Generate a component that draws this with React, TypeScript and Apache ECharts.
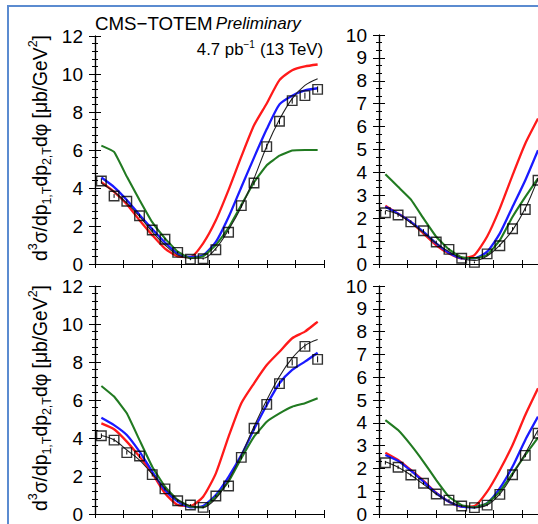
import React, { useEffect, useRef } from "react";
import * as echarts from "echarts";

// bin centres (degrees)
const phiBins = [5, 15, 25, 35, 45, 55, 65, 75, 85, 95, 105, 115, 125, 135, 145, 155, 165, 175];

// top-left panel
const tlData = [4.37, 3.58, 3.30, 2.54, 1.79, 1.30, 0.61, 0.25, 0.28, 0.75, 1.67, 3.07, 4.26, 6.18, 7.51, 8.60, 8.86, 9.19];
const tlErr = [0.12, 0.1, 0.1, 0.1, 0.1, 0.08, 0.06, 0.05, 0.05, 0.06, 0.08, 0.1, 0.12, 0.15, 0.16, 0.16, 0.16, 0.16];
const tlRed = [4.30, 3.80, 3.15, 2.30, 1.52, 0.81, 0.40, 0.36, 1.09, 2.30, 3.90, 5.65, 7.30, 8.45, 9.68, 10.20, 10.40, 10.50];
const tlBlue = [4.55, 4.05, 3.37, 2.58, 1.84, 1.13, 0.55, 0.37, 0.46, 1.16, 2.47, 4.04, 5.60, 7.10, 8.40, 8.86, 9.14, 9.25];
const tlBlack = [4.25, 3.80, 3.20, 2.50, 1.70, 1.00, 0.47, 0.30, 0.30, 0.82, 1.80, 3.00, 4.50, 6.20, 7.60, 8.70, 9.40, 9.75];
const tlGreen = [6.23, 5.90, 4.60, 3.37, 2.20, 1.35, 0.65, 0.30, 0.40, 1.00, 1.90, 3.10, 4.30, 5.20, 5.70, 5.97, 6.00, 6.00];

// top-right panel (visible part)
const trData = [2.24, 2.14, 1.84, 1.45, 0.96, 0.64, 0.25, 0.07, 0.44, 0.80, 1.54, 2.38, 3.66];
const trErr = [0.08, 0.08, 0.07, 0.07, 0.06, 0.05, 0.04, 0.04, 0.05, 0.06, 0.07, 0.08, 0.1];
const trRed = [2.54, 2.20, 1.84, 1.33, 0.82, 0.46, 0.25, 0.39, 1.20, 2.43, 3.88, 5.26, 6.35];
const trBlue = [2.50, 2.20, 1.84, 1.40, 0.90, 0.49, 0.25, 0.25, 0.54, 1.34, 2.50, 3.66, 4.97];
const trBlack = [2.35, 2.17, 1.80, 1.37, 0.90, 0.54, 0.25, 0.15, 0.35, 0.83, 1.48, 2.43, 3.74];
const trGreen = [3.92, 3.37, 2.82, 1.99, 1.19, 0.64, 0.29, 0.25, 0.39, 1.04, 2.06, 2.93, 3.74];

// bottom-left panel
const blData = [4.12, 3.89, 3.23, 3.05, 2.07, 1.32, 0.70, 0.47, 0.35, 0.95, 1.47, 2.98, 4.51, 5.77, 6.86, 7.98, 8.82, 8.14];
const blErr = [0.12, 0.1, 0.1, 0.1, 0.1, 0.08, 0.06, 0.05, 0.05, 0.06, 0.08, 0.1, 0.12, 0.15, 0.16, 0.16, 0.16, 0.16];
const blRed = [4.77, 4.46, 3.81, 3.02, 2.14, 1.09, 0.47, 0.42, 0.91, 2.14, 4.07, 5.83, 6.88, 7.84, 8.54, 9.25, 9.60, 10.12];
const blBlue = [5.07, 4.68, 4.16, 3.28, 2.23, 1.26, 0.65, 0.35, 0.42, 1.00, 1.96, 3.10, 4.46, 5.74, 6.88, 7.58, 8.02, 8.49];
const blBlack = [4.13, 3.90, 3.37, 2.84, 2.11, 1.35, 0.74, 0.42, 0.35, 0.82, 1.79, 3.10, 4.60, 6.00, 7.24, 8.20, 8.86, 9.18];
const blGreen = [6.74, 6.18, 5.30, 3.89, 2.49, 1.44, 0.74, 0.39, 0.35, 0.91, 1.70, 2.93, 4.07, 4.86, 5.30, 5.65, 5.83, 6.09];

// bottom-right panel (visible part)
const brData = [2.25, 2.05, 1.71, 1.35, 0.88, 0.61, 0.35, 0.28, 0.39, 0.86, 1.72, 2.57, 3.54];
const brErr = [0.08, 0.08, 0.07, 0.07, 0.06, 0.05, 0.04, 0.04, 0.05, 0.06, 0.07, 0.08, 0.1];
const brRed = [2.69, 2.37, 1.93, 1.45, 0.93, 0.54, 0.32, 0.35, 0.98, 1.93, 3.03, 4.34, 5.51];
const brBlue = [2.59, 2.33, 1.90, 1.42, 0.91, 0.54, 0.32, 0.29, 0.47, 1.13, 2.08, 3.25, 4.27];
const brBlack = [2.29, 2.05, 1.71, 1.30, 0.88, 0.54, 0.35, 0.28, 0.39, 0.88, 1.71, 2.66, 3.68];
const brGreen = [4.12, 3.68, 3.03, 2.29, 1.49, 0.76, 0.39, 0.29, 0.47, 0.98, 1.78, 2.59, 3.35];

const yTicksLeft = { min: 0, max: 12, interval: 2, minor: 5 };
const yTicksRight = { min: 0, max: 10, interval: 1, minor: 3 };

const FONT = "'Liberation Sans', Arial, Helvetica, sans-serif";

const pts = (ys: number[]) => ys.map((v, i) => [phiBins[i], v]);

export default function App() {
  const ref = useRef<HTMLDivElement>(null);

  useEffect(() => {
    if (!ref.current) return;
    const chart = echarts.init(ref.current, undefined, { renderer: "svg" });

    const grids = [
      { left: 95, top: 36, width: 229, height: 228 },
      { left: 379, top: 35, width: 229, height: 229 },
      { left: 95, top: 286, width: 229, height: 228 },
      { left: 379, top: 286, width: 229, height: 228 },
    ];
    const yDefs = [yTicksLeft, yTicksRight, yTicksLeft, yTicksRight];
    const panels = [
      { d: tlData, e: tlErr, r: tlRed, b: tlBlue, k: tlBlack, g: tlGreen },
      { d: trData, e: trErr, r: trRed, b: trBlue, k: trBlack, g: trGreen },
      { d: blData, e: blErr, r: blRed, b: blBlue, k: blBlack, g: blGreen },
      { d: brData, e: brErr, r: brRed, b: brBlue, k: brBlack, g: brGreen },
    ];

    const axisLine = { show: true, lineStyle: { color: "#000", width: 1.2 } };
    const xAxis: any[] = [];
    const yAxis: any[] = [];
    grids.forEach((_, gi) => {
      ["bottom", "top"].forEach((pos) => {
        xAxis.push({
          type: "value",
          gridIndex: gi,
          position: pos,
          min: 0,
          max: 180,
          interval: 22.5,
          axisLine,
          axisTick: { show: true, inside: true, length: 4, lineStyle: { color: "#000", width: 1 } },
          axisLabel: { show: false },
          splitLine: { show: false },
        });
      });
      const yd = yDefs[gi];
      ["left", "right"].forEach((pos) => {
        yAxis.push({
          type: "value",
          gridIndex: gi,
          position: pos,
          min: yd.min,
          max: yd.max,
          interval: yd.interval,
          axisLine,
          axisTick: { show: true, inside: true, length: 6, lineStyle: { color: "#000", width: 1 } },
          minorTick: { show: true, splitNumber: yd.minor, length: 3, lineStyle: { color: "#000", width: 1 } },
          axisLabel: {
            show: pos === "left",
            color: "#000",
            fontSize: 19,
            fontFamily: FONT,
            margin: 12,
          },
          splitLine: { show: false },
          minorSplitLine: { show: false },
        });
      });
    });

    const series: any[] = [];
    panels.forEach((p, gi) => {
      const xi = gi * 2;
      const yi = gi * 2;
      const line = (data: number[], color: string, width: number, z: number, smooth: number) => ({
        type: "line",
        xAxisIndex: xi,
        yAxisIndex: yi,
        data: pts(data),
        symbol: "none",
        smooth,
        lineStyle: { color, width },
        z,
        silent: true,
      });
      series.push(line(p.r, "#ff1a1a", 2.3, 2, 0.2));
      series.push(line(p.b, "#1a1aff", 2.3, 3, 0.2));
      series.push(line(p.g, "#217a21", 2.1, 4, 0.1));
      series.push(line(p.k, "#222222", 1.1, 5, 0.35));
      series.push({
        type: "custom",
        xAxisIndex: xi,
        yAxisIndex: yi,
        data: p.d.map((v, i) => [phiBins[i], v, p.e[i]]),
        z: 6,
        renderItem: (params: any, api: any) => {
          const x = api.value(0);
          const y = api.value(1);
          const e = api.value(2);
          const a = api.coord([x, y - e]);
          const b = api.coord([x, y + e]);
          return {
            type: "line",
            shape: { x1: a[0], y1: a[1], x2: b[0], y2: b[1] },
            style: { stroke: "#000", lineWidth: 1 },
          };
        },
      });
      series.push({
        type: "scatter",
        xAxisIndex: xi,
        yAxisIndex: yi,
        data: pts(p.d),
        symbol: "rect",
        symbolSize: 9.5,
        itemStyle: { color: "rgba(0,0,0,0)", borderColor: "#000", borderWidth: 1.4 },
        z: 7,
      });
    });

    const yTitle = (cy: number) => ({
      type: "text",
      x: 40,
      y: cy,
      rotation: Math.PI / 2,
      style: {
        text: "{n|d}{sup|3}{n|σ/dp}{sub|1,T}{n|dp}{sub|2,T}{n|dφ [μb/GeV}{sup|2}{n|]}",
        align: "center",
        verticalAlign: "middle",
        fill: "#000",
        rich: {
          n: { fontSize: 19.3, fontFamily: FONT, lineHeight: 27, verticalAlign: "middle", fill: "#000" },
          sup: { fontSize: 12.5, fontFamily: FONT, lineHeight: 27, verticalAlign: "top", fill: "#000" },
          sub: { fontSize: 12.5, fontFamily: FONT, lineHeight: 27, verticalAlign: "bottom", fill: "#000" },
        },
      },
    });

    const graphic: any[] = [
      { type: "line", shape: { x1: 8, y1: 6, x2: 538, y2: 6 }, style: { stroke: "#5b8bd0", lineWidth: 2 } },
      { type: "line", shape: { x1: 8, y1: 5, x2: 8, y2: 524 }, style: { stroke: "#5b8bd0", lineWidth: 2 } },
      {
        type: "text",
        x: 95,
        y: 23,
        style: {
          text: "{a|CMS−TOTEM} {b|Preliminary}",
          align: "left",
          verticalAlign: "middle",
          rich: {
            a: { fontSize: 18.7, fontFamily: FONT, fill: "#000" },
            b: { fontSize: 17, fontFamily: FONT, fontStyle: "italic", fill: "#000" },
          },
        },
      },
      {
        type: "text",
        x: 323,
        y: 49,
        style: {
          text: "{n|4.7 pb}{sup|−1}{n| (13 TeV)}",
          align: "right",
          verticalAlign: "middle",
          rich: {
            n: { fontSize: 16.8, fontFamily: FONT, fill: "#000", lineHeight: 20, verticalAlign: "middle" },
            sup: { fontSize: 10, fontFamily: FONT, fill: "#000", lineHeight: 20, verticalAlign: "top" },
          },
        },
        z: 10,
      },
      yTitle(148),
      yTitle(398),
    ];

    chart.setOption({
      animation: false,
      backgroundColor: "#fff",
      grid: grids,
      xAxis,
      yAxis,
      series,
      graphic,
    });

    return () => chart.dispose();
  }, []);

  return (
    <div
      style={{ position: "absolute", left: 0, top: 0, width: 538, height: 524, overflow: "hidden" }}
    >
      <div ref={ref} style={{ position: "absolute", left: 0, top: 0, width: 640, height: 524 }} />
    </div>
  );
}
